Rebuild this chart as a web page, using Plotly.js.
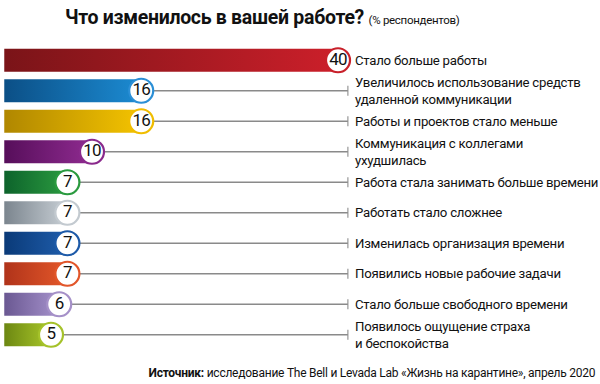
<!DOCTYPE html>
<html>
<head>
<meta charset="utf-8">
<script src="https://cdn.plot.ly/plotly-3.0.1.min.js"></script>
<style>
html,body{margin:0;padding:0;background:#fff;}
#chart{width:600px;height:384px;}
#chart .annotation-text{letter-spacing:-0.25px;}
#chart .textpoint text{letter-spacing:-0.8px;}
#chart .gtitle{letter-spacing:-0.3px;}
</style>
</head>
<body>
<div id="chart"></div>
<script>
const categories = [
  "Стало больше работы",
  "Увеличилось использование средств<br>удаленной коммуникации",
  "Работы и проектов стало меньше",
  "Коммуникация с коллегами<br>ухудшилась",
  "Работа стала занимать больше времени",
  "Работать стало сложнее",
  "Изменилась организация времени",
  "Появились новые рабочие задачи",
  "Стало больше свободного времени",
  "Появилось ощущение страха<br>и беспокойства"
];
const values = [40, 16, 16, 10, 7, 7, 7, 7, 6, 5];
const darkColors  = ["#7a1418", "#0b4f86", "#b08700", "#560e5a", "#0d632b", "#7b858e", "#0a3a78", "#b0331a", "#6a5892", "#6c8712"];
const lightColors = ["#cc1f2a", "#1c8bd2", "#f4c300", "#8f2b90", "#2b9b40", "#c8cfd5", "#1f5dab", "#e4582a", "#a692cc", "#aac82a"];
const ringColors  = ["#c8202a", "#2b8fd6", "#f0bd00", "#8a2a8c", "#2a9a3f", "#c3cad0", "#1d5aa8", "#e2562a", "#a590c8", "#a5c22a"];
const titleText = "<b>Что изменилось в вашей работе?</b> <span style='font-size:11.5px'>(% респондентов)</span>";
const sourceText = "<b>Источник:</b> исследование The Bell и Levada Lab «Жизнь на карантине», апрель 2020";

const FONT = "Roboto, 'Liberation Sans', sans-serif";
const BAR_START = -0.7, HALF = 0.38, LINE_END = 41.2;

const traces = [];
values.forEach((v, i) => {
  traces.push({
    type: 'scatter', mode: 'lines',
    x: [BAR_START, v, v, BAR_START, BAR_START],
    y: [i - HALF, i - HALF, i + HALF, i + HALF, i - HALF],
    fill: 'toself',
    line: {width: 0, color: 'rgba(0,0,0,0)'},
    fillgradient: {type: 'horizontal', colorscale: [[0, darkColors[i]], [1, lightColors[i]]]},
    hoverinfo: 'skip', showlegend: false
  });
});
values.forEach((v, i) => {
  traces.push({
    type: 'scatter', mode: 'lines+markers',
    x: [v, LINE_END], y: [i, i],
    line: {color: '#8a8a8a', width: 1.5},
    marker: {symbol: ['circle', 'line-ns'], size: [0, 7], color: '#8a8a8a', line: {color: '#8a8a8a', width: 1.5}},
    hoverinfo: 'skip', showlegend: false
  });
});
traces.push({
  type: 'scatter', mode: 'markers+text',
  x: values, y: values.map((_, i) => i),
  text: values.map(String), textposition: 'middle center',
  textfont: {family: FONT, size: 17, color: '#111'},
  marker: {size: 24, color: '#fff', line: {color: ringColors, width: 2.2}},
  hoverinfo: 'skip', showlegend: false
});

const annotations = categories.map((c, i) => ({
  xref: 'paper', yref: 'y', x: 353/600, y: i,
  xanchor: 'left', yanchor: 'middle', align: 'left',
  text: c, showarrow: false,
  font: {family: FONT, size: 13.2, color: '#111'}
}));
annotations.push({
  xref: 'paper', yref: 'paper', x: 598/600, y: -0.075,
  xanchor: 'right', yanchor: 'middle', align: 'right',
  text: sourceText, showarrow: false,
  font: {family: FONT, size: 12, color: '#111'}
});

const layout = {
  width: 600, height: 384,
  margin: {l: 0, r: 0, t: 45, b: 34},
  paper_bgcolor: '#fff', plot_bgcolor: '#fff',
  title: {text: titleText, x: 0.437, xanchor: 'center', y: 1 - 17/384, yanchor: 'middle', yref: 'container',
          font: {family: FONT, size: 19.5, color: '#111'}},
  xaxis: {range: [-1.22, 71.95], visible: false, fixedrange: true},
  yaxis: {range: [9.5, -0.5], visible: false, fixedrange: true},
  annotations: annotations,
  showlegend: false
};
Plotly.newPlot('chart', traces, layout, {staticPlot: true});
</script>
</body>
</html>
